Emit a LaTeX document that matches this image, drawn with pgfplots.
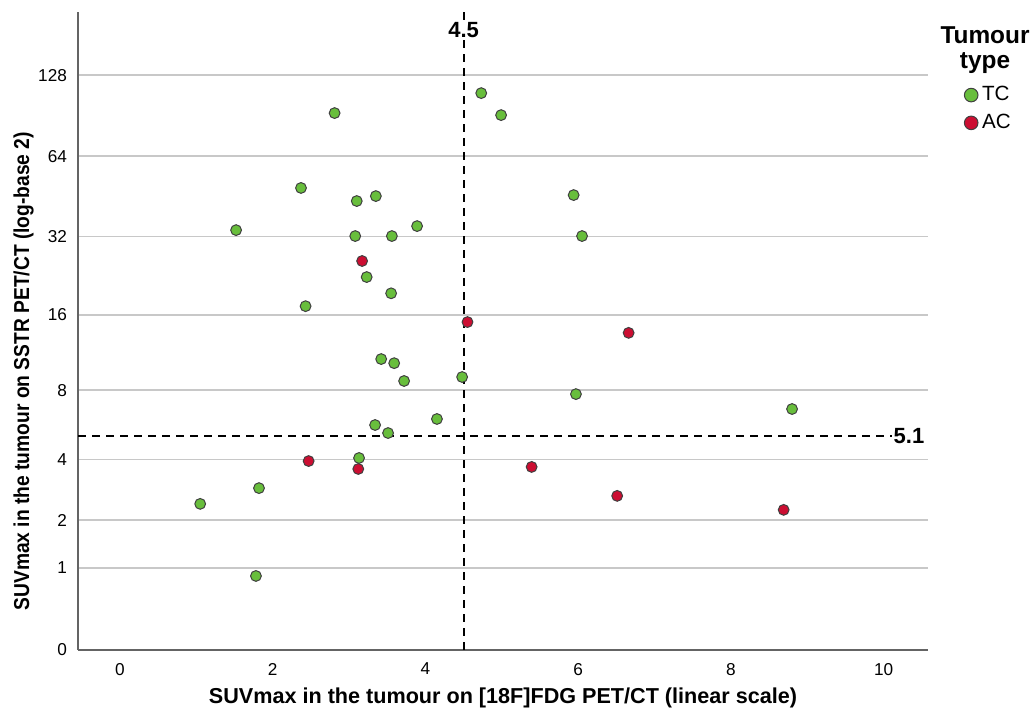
\documentclass[border=0pt]{standalone}
\usepackage{fontspec}
\setmainfont{Liberation Sans}
\usepackage{graphicx}
\usepackage{pgfplots}
\pgfplotsset{compat=1.18}
\definecolor{tcgreen}{RGB}{104,190,60}
\definecolor{acred}{RGB}{204,14,50}
\definecolor{gridgray}{RGB}{200,200,200}
\definecolor{axgray}{RGB}{100,100,100}

\begin{document}
\begin{tikzpicture}
\begin{axis}[
    scale only axis, width=425pt, height=319pt,
    xmin=-0.55, xmax=10.58,
    ymin=0, ymax=219,
    % log-base 2 of (value+1), as the source chart
    y coord trafo/.code={\pgfmathparse{ln(#1+1)/ln(2)}},
    y coord inv trafo/.code={\pgfmathparse{2^(#1)-1}},
    ytick={0,1,2,4,8,16,32,64,128},
    yticklabels={0,1,2,4,8,16,32,64,128},
    xtick={0,2,4,6,8,10},
    ymajorgrids, grid style={gridgray, line width=0.8pt},
    axis x line*=bottom, axis y line*=left,
    axis line style={axgray, line width=0.9pt},
    major tick length=0pt,
    clip=false,
    /pgf/number format/assume math mode=true,
    tick label style={font=\fontsize{8.6}{9}\selectfont},
    yticklabel style={xshift=-2pt},
    xticklabel style={yshift=-3pt},
    xlabel={\textbf{SUVmax in the tumour on [18F]FDG PET/CT (linear scale)}},
    ylabel={\scalebox{0.89}[1]{\textbf{SUVmax in the tumour on SSTR PET/CT (log-base 2)}}},
    label style={font=\fontsize{10.8}{12}\selectfont},
    xlabel style={at={(axis description cs:0.5,-0.0745)}, anchor=center},
    ylabel style={at={(axis description cs:-0.064,0.437)}, anchor=center},
    legend style={draw=none, fill=none, at={(rel axis cs:1,1)}, anchor=north west,
        xshift=17pt, yshift=-34pt, font=\fontsize{10.3}{11}\selectfont,
        row sep=1.2pt, inner sep=1pt},
    legend cell align=left,
    legend image code/.code={\draw[#1, mark size=3.4pt] plot coordinates {(0.12cm,0cm)};},
]
% bounding box of the whole figure
\path (rel axis cs:0,0) ++(-39pt,-32pt) coordinate (bbsw);
\path (rel axis cs:1,1) ++(51.5pt,6pt) coordinate (bbne);
\path (bbsw) rectangle (bbne);
% cut-off lines
\draw[black, line width=1pt, dash pattern=on 4pt off 3pt]
    (axis cs:4.5,0) -- (axis cs:4.5,219);
\draw[black, line width=1pt, dash pattern=on 4pt off 3pt]
    (axis cs:-0.55,5.1) -- (axis cs:10.58,5.1);

\addplot[only marks, mark=*, mark size=2.7pt,
    mark options={fill=tcgreen, draw=black!75, line width=0.5pt}] coordinates {
    (2.81,92.6)(4.73,109.8)(4.99,91)(2.37,48.7)(3.10,43.5)(3.35,45.4)(5.94,45.8)
    (1.52,33.8)(3.08,32.1)(3.56,32.1)(3.89,35)(6.05,32.1)(3.23,22.4)(3.55,19.4)
    (2.43,17.3)(3.42,10.7)(3.59,10.3)(3.72,8.72)(4.48,9.05)(5.97,7.7)(8.80,6.67)
    (4.15,6.05)(3.34,5.7)(3.51,5.26)(3.13,4.07)(1.82,2.93)(1.05,2.44)(1.78,0.87)
};
\addlegendentry{TC}
\addplot[only marks, mark=*, mark size=2.7pt,
    mark options={fill=acred, draw=black!75, line width=0.5pt}] coordinates {
    (3.17,25.8)(4.55,15)(6.66,13.6)(2.47,3.94)(3.12,3.62)(5.39,3.70)(6.51,2.68)(8.69,2.27)
};
\addlegendentry{AC}

\node[fill=white, inner sep=1pt, yshift=-9pt, font=\bfseries\fontsize{11}{12}\selectfont]
    at (axis cs:4.5,219) {4.5};
\node[fill=white, inner sep=1pt, xshift=-9.5pt, font=\bfseries\fontsize{11}{12}\selectfont]
    at (axis cs:10.58,5.1) {5.1};
\node[align=center, inner sep=0pt, font=\bfseries\fontsize{12.2}{12.5}\selectfont, anchor=north,
    xshift=28.5pt, yshift=-7pt] at (rel axis cs:1,1) {Tumour\\type};
\end{axis}
\end{tikzpicture}
\end{document}
